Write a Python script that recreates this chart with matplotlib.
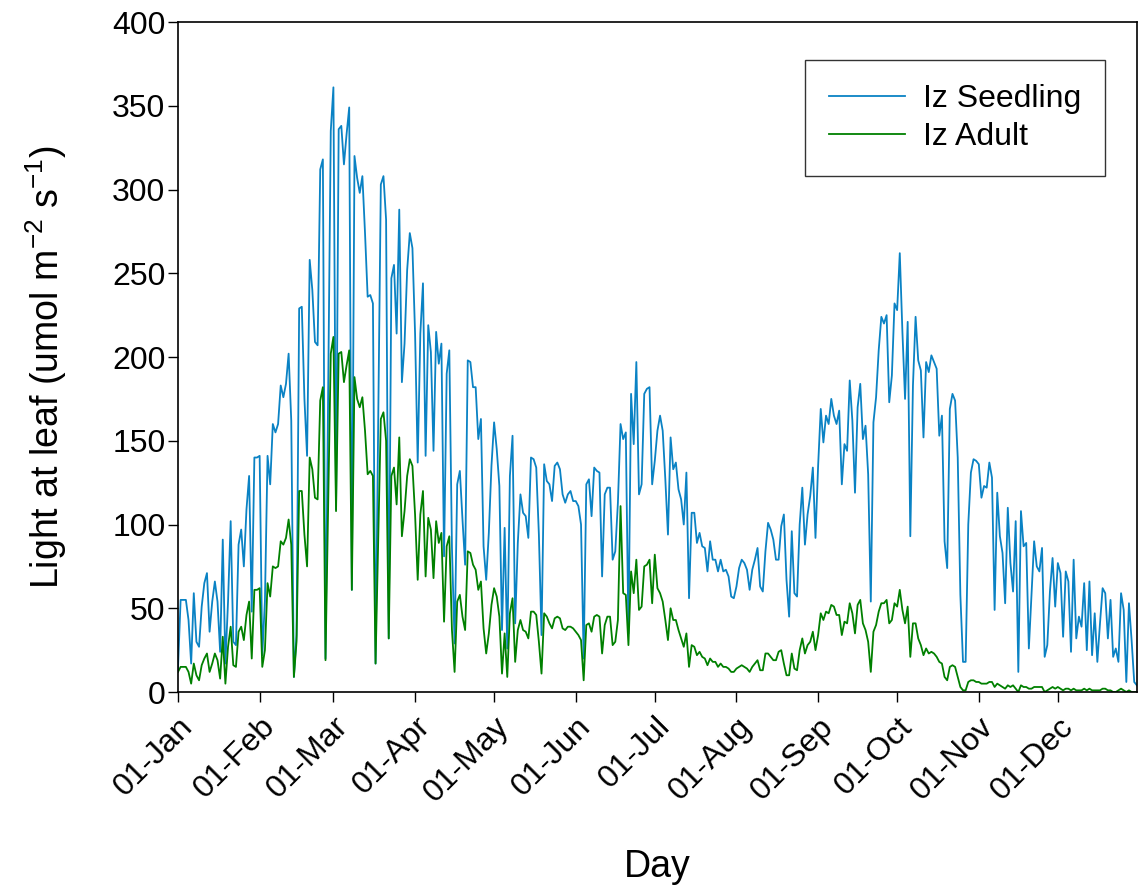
import numpy as np
import pandas as pd
import matplotlib
matplotlib.use("Agg")
import matplotlib.pyplot as plt
import matplotlib.dates as mdates

plt.rcParams["font.family"] = ["Liberation Sans", "DejaVu Sans"]
plt.rcParams["mathtext.default"] = "regular"

# Daily light at leaf (umol m-2 s-1), 1 Jan .. 31 Dec
seedling = [
    # Jan 1 - Feb 13
    14, 55, 55, 55, 43, 17, 59, 30, 27, 51, 65, 71, 36, 54, 66, 54, 24, 91, 17, 54,
    102, 30, 28, 88, 97, 75, 109, 129, 48, 140, 140, 141, 22, 54, 141, 124, 160, 155, 160, 183,
    176, 184, 202, 162,
    # Feb 14 - Mar 1
    9, 34, 229, 230, 175, 141, 258, 240, 209, 207, 312, 318, 20, 180, 335, 361,
    # Mar 2 - Mar 27
    109, 336, 338, 315, 333, 349, 61, 320, 307, 298, 308, 274, 236, 237, 232, 17, 160, 303, 308, 282,
    32, 247, 255, 214, 288, 185,
    # Mar 28 - May 12
    208, 252, 274, 265, 214, 137, 214, 244, 141, 219, 203, 144, 215, 196, 208, 81, 190, 204, 86, 29,
    124, 132, 103, 76, 198, 197, 182, 182, 151, 163, 87, 67, 95, 135, 161, 145, 123, 37, 98, 26,
    129, 153, 41, 89, 118, 107,
    # May 13 - Jun 25
    105, 92, 140, 139, 134, 94, 34, 136, 126, 124, 114, 135, 137, 133, 118, 113, 118, 120, 114, 114,
    111, 100, 20, 124, 127, 105, 134, 132, 131, 69, 118, 122, 122, 79, 84, 113, 160, 151, 155, 35,
    178, 148, 197, 118,
    # Jun 26 - Aug 5
    124, 178, 181, 182, 124, 138, 156, 165, 156, 127, 94, 152, 133, 137, 121, 115, 100, 131, 56, 107,
    107, 89, 95, 87, 86, 72, 90, 79, 79, 72, 79, 72, 73, 69, 57, 56, 63, 74, 79, 77,
    73,
    # Aug 6 - Sep 20
    61, 73, 79, 86, 63, 60, 84, 101, 97, 91, 79, 79, 99, 106, 67, 45, 96, 59, 57, 100,
    122, 88, 106, 117, 134, 92, 135, 169, 149, 165, 160, 175, 165, 160, 168, 124, 148, 144, 186, 162,
    119, 170, 184, 151, 159, 130,
    # Sep 21 - Nov 2
    54, 161, 176, 204, 224, 220, 225, 173, 189, 232, 228, 262, 215, 175, 221, 93, 183, 224, 198, 192,
    152, 197, 191, 201, 197, 193, 153, 165, 90, 74, 169, 178, 174, 140, 58, 18, 18, 100, 131, 139,
    138, 136, 116,
    # Nov 3 - Dec 31
    123, 122, 137, 128, 49, 119, 93, 83, 53, 110, 77, 60, 102, 12, 108, 87, 89, 26, 58, 90,
    75, 72, 86, 21, 28, 60, 80, 51, 77, 71, 33, 72, 66, 24, 79, 32, 45, 39, 65, 25,
    66, 22, 47, 18, 41, 62, 59, 32, 55, 21, 26, 18, 59, 49, 6, 53, 31, 6, 4,
]

adult = [
    # Jan 1 - Feb 13
    12, 15, 15, 15, 12, 5, 17, 10, 7, 16, 20, 23, 12, 17, 23, 19, 8, 33, 5, 27,
    39, 16, 15, 36, 39, 31, 46, 54, 20, 61, 61, 62, 15, 25, 65, 57, 75, 74, 75, 90,
    88, 92, 103, 88,
    # Feb 14 - Mar 1
    9, 30, 120, 120, 94, 75, 140, 133, 116, 115, 174, 182, 19, 110, 202, 212,
    # Mar 2 - Mar 27
    108, 202, 203, 185, 195, 204, 61, 188, 175, 170, 176, 156, 130, 132, 129, 17, 90, 163, 167, 150,
    32, 129, 134, 112, 152, 93,
    # Mar 28 - May 12
    108, 129, 139, 135, 106, 67, 106, 120, 69, 104, 97, 68, 102, 89, 95, 42, 87, 93, 37, 12,
    54, 58, 45, 37, 84, 83, 76, 73, 61, 66, 38, 23, 35, 52, 62, 57, 45, 11, 35, 9,
    47, 56, 18, 37, 43, 37,
    # May 13 - Jun 25
    36, 32, 48, 48, 46, 30, 11, 47, 45, 41, 38, 44, 45, 44, 38, 37, 39, 39, 38, 36,
    34, 31, 7, 40, 41, 36, 45, 46, 45, 23, 40, 45, 45, 28, 30, 43, 111, 59, 58, 28,
    72, 59, 79, 49,
    # Jun 26 - Aug 5
    51, 75, 76, 79, 53, 82, 62, 59, 54, 43, 31, 50, 43, 43, 37, 32, 27, 35, 15, 28,
    27, 22, 24, 21, 20, 16, 20, 18, 18, 15, 17, 15, 15, 14, 12, 12, 14, 15, 16, 15,
    14,
    # Aug 6 - Sep 20
    12, 15, 17, 19, 13, 13, 23, 23, 21, 19, 19, 24, 25, 17, 10, 10, 23, 14, 13, 25,
    32, 23, 28, 30, 36, 25, 34, 47, 43, 48, 47, 52, 51, 46, 46, 34, 42, 41, 53, 47,
    35, 52, 55, 41, 37, 30,
    # Sep 21 - Nov 2
    12, 36, 40, 48, 53, 53, 55, 41, 43, 53, 51, 61, 49, 41, 51, 21, 41, 41, 32, 28,
    22, 26, 23, 24, 23, 21, 18, 17, 9, 7, 15, 16, 15, 9, 3, 1, 1, 6, 7, 7,
    6, 6, 5,
    # Nov 3 - Dec 31
    5, 5, 6, 6, 3, 5, 4, 3, 2, 4, 3, 4, 2, 0, 4, 3, 3, 2, 2, 3,
    3, 3, 3, 0, 1, 2, 3, 2, 3, 2, 1, 2, 2, 1, 2, 1, 1, 1, 2, 1,
    2, 1, 1, 1, 1, 2, 2, 1, 1, 0, 0, 1, 2, 1, 0, 1, 0, 0, 0,
]

days = pd.date_range("2001-01-01", "2001-12-31", freq="D")

fig = plt.figure(figsize=(11.38, 8.88), dpi=100)
ax = fig.add_axes([0.1564, 0.2207, 0.8426, 0.7545])

ax.plot(days, seedling, color="#0a82c4", lw=1.3, label="Iz Seedling")
ax.plot(days, adult, color="#008000", lw=1.3, label="Iz Adult")

ax.set_xlim(days[0], days[-1])
ax.set_ylim(0, 400)
ax.set_yticks(np.arange(0, 401, 50))
ax.xaxis.set_major_locator(mdates.MonthLocator())
ax.xaxis.set_major_formatter(mdates.DateFormatter("%d-%b"))

ax.tick_params(direction="out", length=7, width=1, labelsize=23, colors="black")
ax.tick_params(axis="y", pad=2)
ax.tick_params(axis="x", pad=7)
for lab in ax.get_xticklabels():
    lab.set_rotation(45)
    lab.set_ha("right")
    lab.set_va("top")
    lab.set_rotation_mode("anchor")
for sp in ax.spines.values():
    sp.set_linewidth(1.2)

ax.set_xlabel("Day", fontsize=27)
ax.xaxis.set_label_coords(0.5, -0.235)
ax.set_ylabel("Light at leaf (umol m$^{-2}$ s$^{-1}$)", fontsize=27)
ax.yaxis.set_label_coords(-0.114, 0.485)

leg = ax.legend(loc="upper right", bbox_to_anchor=(0.967, 0.943), fontsize=23,
                frameon=True, fancybox=False, edgecolor="black", borderpad=0.75,
                handlelength=2.4, handletextpad=0.55, labelspacing=0.25, borderaxespad=0)
leg.get_frame().set_linewidth(1.0)

fig.savefig("out.png", dpi=100)
